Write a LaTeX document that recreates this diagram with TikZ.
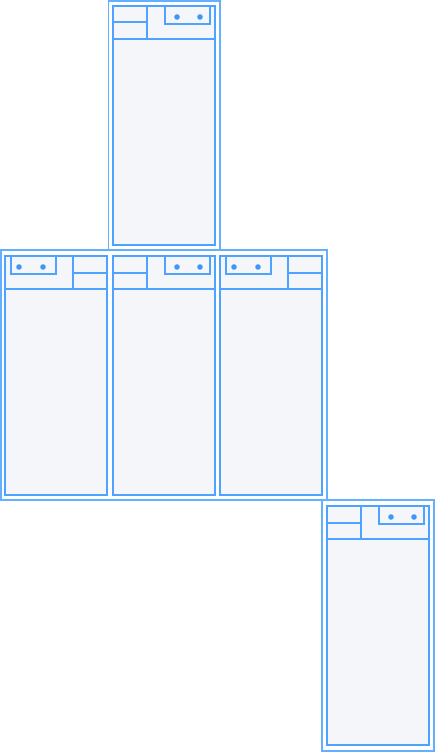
\documentclass[tikz,border=0pt]{standalone}
\usepackage{tikz}
\definecolor{edge}{RGB}{77,163,255}
\definecolor{frame}{RGB}{98,176,255}
\definecolor{paper}{RGB}{244,246,250}
\definecolor{dot}{RGB}{61,152,250}

\begin{document}
\begin{tikzpicture}[x=1pt,y=-1pt,
    outer/.style={draw=frame, line width=1.9pt, fill=white},
    card/.style={draw=edge, line width=2.2pt, fill=paper},
    rule/.style={draw=edge, line width=2pt},
    pin/.style={circle, fill=dot, inner sep=0pt, minimum size=5.6pt}]
      \useasboundingbox (0,0) rectangle (435,752);

      % frames
      \draw[outer] (108.5,1) rectangle (220,250);
      \draw[outer] (1,250) rectangle (327,500);
      \draw[outer] (322,500) rectangle (434,751);

      % top card
      \begin{scope}[shift={(113,6)}]
      \draw[card] (0,0) rectangle (102,239);
      \draw[rule] (0,33) -- (102,33);
      \draw[rule] (34,0) -- (34,33);
      \draw[rule] (0,16.5) -- (34,16.5);
      \draw[rule] (52,0) rectangle (97,18);
      \node (t1) at (64,11) [pin] {};
      \node (t2) at (87,11) [pin] {};
      \end{scope}

      % middle row, left card
      \begin{scope}[shift={(5,256)}]
      \draw[card] (0,0) rectangle (102,239);
      \draw[rule] (0,33) -- (102,33);
      \draw[rule] (68,0) -- (68,33);
      \draw[rule] (68,16.5) -- (102,16.5);
      \draw[rule] (6,0) rectangle (51,18);
      \node (a1) at (14,11) [pin] {};
      \node (a2) at (38,11) [pin] {};
      \end{scope}

      % middle row, centre card
      \begin{scope}[shift={(113,256)}]
      \draw[card] (0,0) rectangle (102,239);
      \draw[rule] (0,33) -- (102,33);
      \draw[rule] (34,0) -- (34,33);
      \draw[rule] (0,16.5) -- (34,16.5);
      \draw[rule] (52,0) rectangle (97,18);
      \node (b1) at (64,11) [pin] {};
      \node (b2) at (87,11) [pin] {};
      \end{scope}

      % middle row, right card
      \begin{scope}[shift={(220,256)}]
      \draw[card] (0,0) rectangle (102,239);
      \draw[rule] (0,33) -- (102,33);
      \draw[rule] (68,0) -- (68,33);
      \draw[rule] (68,16.5) -- (102,16.5);
      \draw[rule] (6,0) rectangle (51,18);
      \node (c1) at (14,11) [pin] {};
      \node (c2) at (38,11) [pin] {};
      \end{scope}

      % bottom card
      \begin{scope}[shift={(327,506)}]
      \draw[card] (0,0) rectangle (102,239);
      \draw[rule] (0,33) -- (102,33);
      \draw[rule] (34,0) -- (34,33);
      \draw[rule] (0,16.5) -- (34,16.5);
      \draw[rule] (52,0) rectangle (97,18);
      \node (d1) at (64,11) [pin] {};
      \node (d2) at (87,11) [pin] {};
      \end{scope}

    \end{tikzpicture}
\end{document}
